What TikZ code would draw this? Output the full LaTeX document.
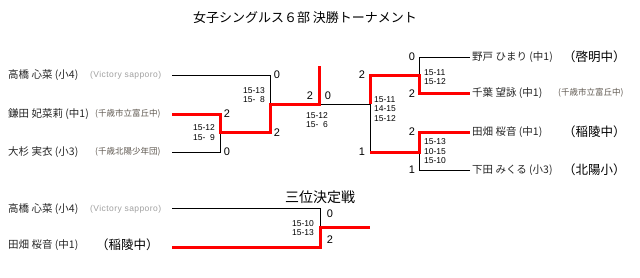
\documentclass[tikz,border=0pt]{standalone}
\usepackage{fontspec}
\setmainfont{Liberation Sans}
\newfontfamily\jp{Noto Sans CJK JP}
\newfontfamily\spaced[LetterSpace=5]{Liberation Sans}
\definecolor{teamgray}{RGB}{95,88,80}
\definecolor{lightteam}{RGB}{160,160,160}
\definecolor{winred}{RGB}{255,0,0}
\begin{document}
\begin{tikzpicture}[x=1pt,y=-1pt,
  every node/.style={inner sep=0pt},
  pname/.style={anchor=west,font=\jp\fontsize{10.5}{11}\selectfont,text=black!85},
  steam/.style={anchor=west,font=\jp\fontsize{8.5}{9}\selectfont,text=teamgray},
  vteam/.style={anchor=west,font=\spaced\fontsize{8.5}{9}\selectfont,text=lightteam},
  bteam/.style={anchor=west,font=\jp\fontsize{12.5}{13}\selectfont,text=black},
  gscore/.style={font=\fontsize{8.5}{9.5}\selectfont,align=left},
  pts/.style={font=\fontsize{11}{11}\selectfont},
  loseline/.style={draw=black,line width=0.9pt},
  winline/.style={draw=winred,line width=3pt,line join=miter}
]
\useasboundingbox (0,0) rectangle (640,277);
\fill[white] (0,0) rectangle (640,277);

% title
\node[font=\jp\fontsize{13}{13}\selectfont] (title) at (305,18) {女子シングルス６部 決勝トーナメント};

% left players
\node[pname] (n1) at (8,75) {高橋 心菜 (小4)};
\node[vteam] (t1) at (90,75) {(Victory sapporo)};
\node[pname] (n2) at (8,114) {鎌田 妃菜莉 (中1)};
\node[steam] (t2) at (95,114) {(千歳市立富丘中)};
\node[pname] (n3) at (8,152) {大杉 実衣 (小3)};
\node[steam] (t3) at (95,152) {(千歳北陽少年団)};

% right players
\node[pname] (n4) at (472,57) {野戸 ひまり (中1)};
\node[bteam] (t4) at (563,57) {（啓明中）};
\node[pname] (n5) at (472,93) {千葉 望詠 (中1)};
\node[steam] (t5) at (558,93) {(千歳市立富丘中)};
\node[pname] (n6) at (472,132) {田畑 桜音 (中1)};
\node[bteam] (t6) at (563,132) {（稲陵中）};
\node[pname] (n7) at (472,170) {下田 みくる (小3)};
\node[bteam] (t7) at (563,170) {（北陽小）};

% third place
\node[font=\jp\fontsize{14}{14}\selectfont] (third) at (320,197) {三位決定戦};
\node[pname] (n8) at (8,209) {高橋 心菜 (小4)};
\node[vteam] (t8) at (90,209) {(Victory sapporo)};
\node[pname] (n9) at (8,245) {田畑 桜音 (中1)};
\node[bteam] (t9) at (96,245) {（稲陵中）};

% line ends
\coordinate (a1) at (172,75);
\coordinate (a2) at (172,114);
\coordinate (a3) at (172,152);
\coordinate (a4) at (470,57);
\coordinate (a5) at (470,93);
\coordinate (a6) at (470,132);
\coordinate (a7) at (470,170);
\coordinate (a8) at (172,208);
\coordinate (a9) at (172,247);
\coordinate (m1) at (220,132);
\coordinate (m2) at (270,104);
\coordinate (fl) at (319,104);
\coordinate (fr) at (370,104);
\coordinate (top) at (319,66);
\coordinate (q1) at (419,75);
\coordinate (q2) at (419,152);
\coordinate (m3) at (320,227);
\coordinate (m3e) at (370,227);

% losing lines
\draw[loseline] (a1) -| (m2);
\draw[loseline] (a3) -| (m1);
\draw[loseline] (fl) -- (fr) -- (370,152);
\draw[loseline] (a4) -| (q1);
\draw[loseline] (a7) -| (q2);
\draw[loseline] (a8) -| (m3);

% winning lines
\draw[winline] (a2) -- (220,114) -- (m1) -- (270,132) -- (m2) -- (fl) -- (top);
\draw[winline] (fr) -- (370,75) -- (q1) -- (419,93) -- (a5);
\draw[winline] (370,152) -- (q2) -- (419,132) -- (a6);
\draw[winline] (a9) -- (320,247) -- (m3) -- (m3e);

% points
\node[pts] (p1) at (227,114) {2};
\node[pts] (p2) at (227,152) {0};
\node[pts] (p3) at (277,75) {0};
\node[pts] (p4) at (277,133) {2};
\node[pts] (p5) at (310,96) {2};
\node[pts] (p6) at (328,96) {0};
\node[pts] (p7) at (362,75) {2};
\node[pts] (p8) at (362,152) {1};
\node[pts] (p9) at (412,57) {0};
\node[pts] (p10) at (412,94) {2};
\node[pts] (p11) at (412,132) {2};
\node[pts] (p12) at (412,170) {1};
\node[pts] (p13) at (330,214) {0};
\node[pts] (p14) at (330,240) {2};

% game scores
\node[gscore] (g1) at (204,132.5) {15-12\\15-\hphantom{1}9};
\node[gscore] (g2) at (254,95) {15-13\\15-\hphantom{1}8};
\node[gscore] (g3) at (317,120) {15-12\\15-\hphantom{1}6};
\node[gscore] (g4) at (385,109) {15-11\\14-15\\15-12};
\node[gscore] (g5) at (435,77) {15-11\\15-12};
\node[gscore] (g6) at (435,151.5) {15-13\\10-15\\15-10};
\node[gscore] (g7) at (303,228) {15-10\\15-13};
\end{tikzpicture}
\end{document}
